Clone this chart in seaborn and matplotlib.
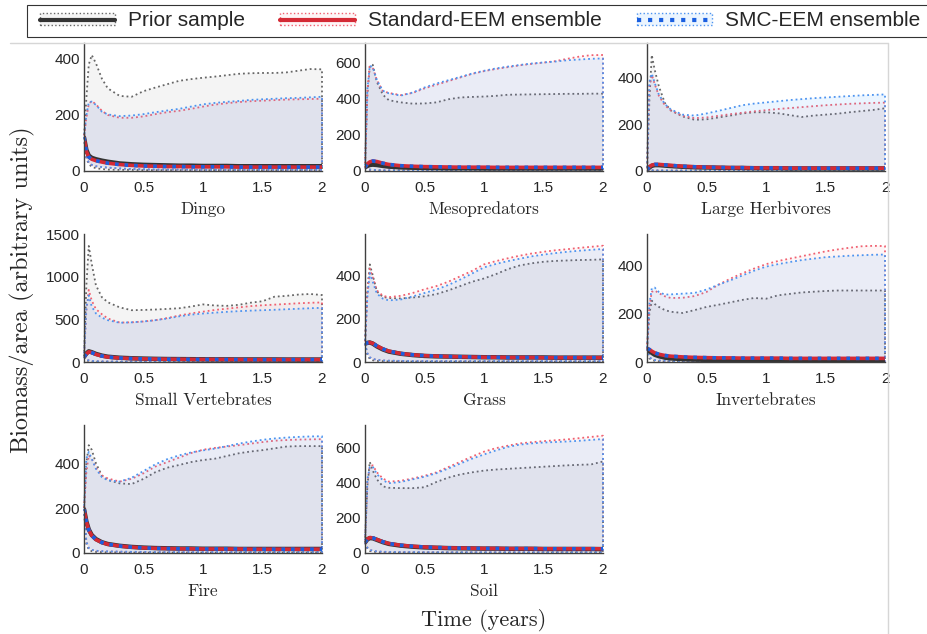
import pandas as pd
import matplotlib.pyplot as plt
import seaborn as sns
from matplotlib.patches import Patch, Rectangle
from matplotlib.lines import Line2D

# time grid (years)
t = [0, 0.02, 0.04, 0.065, 0.1, 0.15, 0.2, 0.3, 0.4, 0.5, 0.6, 0.7, 0.8,
     0.9, 1.0, 1.1, 1.2, 1.3, 1.4, 1.5, 1.6, 1.7, 1.8, 1.9, 2.0]

names = ["Dingo", "Mesopredators", "Large Herbivores", "Small Vertebrates",
         "Grass", "Invertebrates", "Fire", "Soil"]

# upper envelopes
prior_hi = {
    "Dingo": [120, 260, 380, 414, 385, 330, 295, 268, 265, 285, 298, 310, 322, 328, 333, 337, 342, 347, 349, 350, 350, 352, 358, 364, 363],
    "Mesopredators": [20, 420, 580, 585, 490, 420, 390, 378, 371, 372, 378, 395, 405, 408, 410, 414, 420, 421, 422, 423, 424, 425, 425, 426, 426],
    "Large Herbivores": [5, 300, 494, 430, 360, 290, 258, 232, 218, 220, 228, 236, 245, 250, 250, 246, 238, 230, 236, 240, 244, 250, 255, 260, 267],
    "Small Vertebrates": [60, 900, 1360, 1150, 900, 760, 700, 640, 607, 610, 615, 622, 630, 650, 675, 662, 658, 670, 695, 712, 765, 775, 790, 797, 785],
    "Grass": [85, 330, 450, 400, 325, 300, 295, 293, 297, 303, 313, 330, 350, 370, 385, 405, 428, 445, 455, 462, 466, 468, 470, 471, 473],
    "Invertebrates": [55, 200, 254, 240, 228, 215, 208, 203, 215, 228, 237, 247, 257, 265, 262, 276, 282, 288, 291, 294, 296, 296, 296, 296, 296],
    "Fire": [195, 400, 480, 460, 400, 345, 325, 310, 307, 330, 360, 380, 392, 405, 414, 420, 432, 444, 452, 458, 466, 474, 476, 476, 476],
    "Soil": [60, 380, 520, 470, 420, 380, 372, 370, 370, 375, 405, 430, 448, 460, 470, 476, 480, 484, 488, 492, 496, 500, 503, 505, 522],
}
std_hi = {
    "Dingo": [120, 190, 240, 250, 238, 215, 200, 190, 190, 195, 203, 210, 215, 222, 230, 237, 242, 246, 249, 251, 253, 255, 256, 257, 258],
    "Mesopredators": [20, 440, 575, 570, 500, 440, 430, 418, 430, 455, 475, 495, 515, 535, 550, 562, 572, 582, 590, 597, 605, 618, 630, 638, 639],
    "Large Herbivores": [5, 360, 410, 370, 320, 280, 258, 235, 225, 228, 235, 242, 248, 254, 259, 264, 268, 272, 276, 280, 283, 286, 288, 290, 291],
    "Small Vertebrates": [60, 600, 845, 720, 620, 560, 510, 462, 465, 475, 490, 515, 545, 570, 590, 610, 625, 640, 655, 665, 672, 680, 688, 694, 698],
    "Grass": [85, 320, 430, 390, 330, 305, 299, 305, 318, 335, 350, 370, 395, 420, 450, 465, 478, 490, 500, 508, 515, 520, 526, 531, 536],
    "Invertebrates": [55, 230, 290, 296, 285, 272, 265, 266, 273, 290, 320, 345, 367, 387, 405, 418, 428, 438, 448, 458, 466, 473, 479, 481, 480],
    "Fire": [195, 360, 435, 420, 380, 345, 332, 318, 330, 355, 385, 405, 425, 445, 460, 468, 474, 480, 487, 494, 500, 503, 505, 506, 507],
    "Soil": [60, 400, 495, 500, 460, 425, 407, 412, 425, 440, 460, 490, 520, 550, 578, 598, 612, 625, 632, 638, 643, 648, 655, 662, 669],
}
smc_hi = {
    "Dingo": [120, 200, 245, 248, 236, 212, 202, 196, 198, 203, 210, 216, 222, 230, 238, 243, 247, 250, 254, 256, 258, 260, 261, 263, 265],
    "Mesopredators": [20, 450, 580, 572, 500, 442, 428, 415, 432, 460, 482, 500, 518, 537, 552, 565, 575, 584, 592, 598, 603, 610, 614, 618, 620],
    "Large Herbivores": [5, 380, 415, 375, 325, 285, 262, 240, 236, 245, 256, 268, 280, 287, 292, 297, 302, 306, 310, 313, 316, 319, 322, 324, 326],
    "Small Vertebrates": [60, 650, 780, 650, 570, 520, 490, 460, 465, 475, 490, 510, 535, 555, 568, 578, 588, 596, 602, 607, 612, 618, 624, 630, 635],
    "Grass": [85, 300, 410, 370, 315, 292, 284, 288, 302, 318, 334, 355, 380, 408, 436, 452, 465, 476, 487, 495, 502, 508, 513, 517, 521],
    "Invertebrates": [55, 240, 305, 308, 290, 279, 280, 283, 286, 300, 320, 338, 358, 378, 395, 405, 414, 422, 428, 434, 437, 440, 442, 444, 445],
    "Fire": [195, 420, 450, 420, 375, 338, 324, 318, 335, 365, 395, 418, 435, 448, 457, 465, 476, 487, 496, 504, 510, 514, 517, 519, 520],
    "Soil": [60, 420, 490, 493, 450, 415, 398, 405, 420, 435, 455, 482, 510, 538, 562, 585, 605, 618, 625, 630, 633, 636, 640, 645, 650],
}

# medians
prior_med = {
    "Dingo": [120, 75, 55, 47, 42, 37, 33, 27, 24, 22, 21, 20, 19, 19, 18, 18, 18, 17, 17, 17, 17, 17, 17, 17, 17],
    "Mesopredators": [20, 28, 33, 35, 33, 28, 24, 20, 18, 17, 16, 15, 15, 15, 14, 14, 14, 14, 14, 14, 14, 14, 14, 14, 14],
    "Large Herbivores": [5, 15, 22, 25, 25, 23, 21, 18, 16, 15, 14, 13, 13, 12, 12, 12, 11, 11, 11, 11, 11, 11, 11, 11, 11],
    "Small Vertebrates": [60, 100, 125, 115, 95, 75, 62, 50, 44, 40, 37, 35, 34, 33, 32, 31, 31, 30, 30, 30, 30, 29, 29, 29, 29],
    "Grass": [85, 88, 90, 85, 72, 58, 48, 38, 32, 28, 26, 25, 24, 23, 22, 22, 21, 21, 21, 21, 20, 20, 20, 20, 20],
    "Invertebrates": [55, 45, 38, 30, 24, 18, 15, 12, 10, 9, 9, 8, 8, 8, 8, 8, 8, 8, 7, 7, 7, 7, 7, 7, 7],
    "Fire": [195, 140, 105, 80, 62, 48, 40, 32, 27, 24, 22, 21, 20, 20, 19, 19, 19, 18, 18, 18, 18, 18, 18, 18, 18],
    "Soil": [60, 78, 85, 84, 75, 62, 52, 42, 36, 32, 30, 28, 27, 26, 25, 25, 24, 24, 24, 23, 23, 23, 23, 23, 22],
}
ens_med = {
    "Dingo": [120, 70, 50, 42, 37, 32, 28, 23, 20, 18, 17, 16, 16, 15, 15, 15, 15, 14, 14, 14, 14, 14, 14, 14, 14],
    "Mesopredators": [20, 40, 50, 55, 52, 43, 36, 29, 26, 24, 23, 22, 21, 21, 21, 20, 20, 20, 20, 20, 20, 20, 20, 20, 20],
    "Large Herbivores": [5, 18, 25, 28, 28, 26, 24, 20, 18, 16, 15, 14, 14, 13, 13, 13, 12, 12, 12, 12, 12, 12, 12, 12, 12],
    "Small Vertebrates": [60, 95, 120, 110, 90, 70, 58, 47, 41, 37, 35, 33, 32, 31, 30, 30, 29, 29, 28, 28, 28, 28, 28, 28, 28],
    "Grass": [85, 88, 90, 86, 74, 60, 50, 39, 33, 29, 27, 25, 24, 23, 22, 22, 21, 21, 21, 20, 20, 20, 20, 20, 20],
    "Invertebrates": [55, 52, 45, 38, 32, 27, 24, 21, 19, 18, 17, 17, 16, 16, 16, 16, 15, 15, 15, 15, 15, 15, 15, 15, 15],
    "Fire": [195, 138, 102, 78, 60, 47, 39, 31, 26, 23, 21, 20, 19, 19, 18, 18, 18, 18, 17, 17, 17, 17, 17, 17, 17],
    "Soil": [60, 80, 88, 86, 77, 64, 54, 44, 38, 34, 31, 29, 28, 27, 26, 26, 25, 25, 25, 24, 24, 24, 24, 24, 24],
}

# lower envelopes
prior_lo = {
    "Dingo": [120, 45, 25, 15, 10, 7, 5, 4, 4, 3, 3, 3, 3, 3, 3, 3, 3, 3, 3, 3, 3, 3, 3, 3, 3],
    "Mesopredators": [20, 10, 6, 4, 3, 2, 2, 2, 2, 2, 2, 2, 2, 2, 2, 2, 2, 2, 2, 2, 2, 2, 2, 2, 2],
    "Large Herbivores": [5, 3, 2, 2, 2, 1, 1, 1, 1, 1, 1, 1, 1, 1, 1, 1, 1, 1, 1, 1, 1, 1, 1, 1, 1],
    "Small Vertebrates": [60, 20, 10, 6, 4, 3, 3, 2, 2, 2, 2, 2, 2, 2, 2, 2, 2, 2, 2, 2, 2, 2, 2, 2, 2],
    "Grass": [85, 30, 15, 8, 5, 4, 3, 3, 2, 2, 2, 2, 2, 2, 2, 2, 2, 2, 2, 2, 2, 2, 2, 2, 2],
    "Invertebrates": [55, 15, 8, 5, 3, 2, 2, 2, 2, 2, 2, 2, 2, 2, 2, 2, 2, 2, 2, 2, 2, 2, 2, 2, 2],
    "Fire": [195, 40, 15, 8, 5, 4, 3, 3, 2, 2, 2, 2, 2, 2, 2, 2, 2, 2, 2, 2, 2, 2, 2, 2, 2],
    "Soil": [60, 25, 12, 8, 5, 4, 3, 3, 3, 3, 3, 3, 3, 3, 3, 3, 3, 3, 3, 3, 3, 3, 3, 3, 3],
}
ens_lo = {
    "Dingo": [120, 50, 30, 22, 17, 14, 12, 9, 7, 6, 5, 5, 5, 5, 4, 4, 4, 4, 4, 4, 4, 4, 4, 4, 4],
    "Mesopredators": [20, 12, 8, 6, 5, 4, 4, 3, 3, 3, 3, 3, 3, 3, 3, 3, 3, 3, 3, 3, 3, 3, 3, 3, 3],
    "Large Herbivores": [5, 3, 3, 2, 2, 2, 2, 2, 2, 2, 2, 2, 2, 2, 2, 2, 2, 2, 2, 2, 2, 2, 2, 2, 2],
    "Small Vertebrates": [60, 30, 18, 12, 9, 7, 6, 5, 4, 4, 4, 4, 4, 4, 4, 4, 4, 4, 4, 4, 4, 4, 4, 4, 4],
    "Grass": [85, 40, 22, 14, 10, 7, 6, 5, 4, 4, 4, 4, 4, 4, 4, 4, 4, 4, 4, 4, 4, 4, 4, 4, 4],
    "Invertebrates": [55, 20, 12, 8, 6, 5, 4, 4, 4, 4, 4, 4, 4, 4, 4, 4, 4, 4, 4, 4, 4, 4, 4, 4, 4],
    "Fire": [195, 50, 22, 14, 10, 8, 7, 6, 5, 5, 4, 4, 4, 4, 4, 4, 4, 4, 4, 4, 4, 4, 4, 4, 4],
    "Soil": [60, 30, 18, 12, 9, 7, 6, 5, 5, 4, 4, 4, 4, 4, 4, 4, 4, 4, 4, 4, 4, 4, 4, 4, 4],
}

ylims = {"Dingo": 457, "Mesopredators": 705, "Large Herbivores": 545,
         "Small Vertebrates": 1500, "Grass": 590, "Invertebrates": 530,
         "Fire": 570, "Soil": 730}
yticks = {"Dingo": [0, 200, 400], "Mesopredators": [0, 200, 400, 600],
          "Large Herbivores": [0, 200, 400], "Small Vertebrates": [0, 500, 1000, 1500],
          "Grass": [0, 200, 400], "Invertebrates": [0, 200, 400],
          "Fire": [0, 200, 400], "Soil": [0, 200, 400, 600]}

labels = ["Prior sample", "Standard-EEM ensemble", "SMC-EEM ensemble"]

# styles: fill, edge, median colour
prior_fill = (0, 0, 0, 0.045)
std_fill = (0.94, 0.24, 0.35, 0.05)
smc_fill = (0.24, 0.63, 1.0, 0.10)
prior_edge, std_edge, smc_edge = "#666666", "#f06070", "#4d94f0"
prior_col, std_col, smc_col = "#333333", "#d42a35", "#1a5fe0"

sns.set_theme(style="white")
plt.rcParams['font.family'] = ['Liberation Sans', 'DejaVu Sans']

W, H = 927, 634
fig = plt.figure(figsize=(W / 100, H / 100), dpi=100)
lefts = [84, 365, 647]
tops = [43, 234, 425]
aw, ah = 238, 128

for i, name in enumerate(names):
    r, c = divmod(i, 3)
    ax = fig.add_axes([lefts[c] / W, 1 - (tops[r] + ah) / H, aw / W, ah / H])

    for lo, hi, fc, ec in [(prior_lo, prior_hi, prior_fill, prior_edge),
                           (ens_lo, std_hi, std_fill, std_edge),
                           (ens_lo, smc_hi, smc_fill, smc_edge)]:
        ax.fill_between(t, lo[name], hi[name], facecolor=fc, edgecolor=ec,
                        linestyle=":", linewidth=1.3, clip_on=False)

    df = pd.DataFrame({"t": t, "prior": prior_med[name], "ens": ens_med[name]})
    sns.lineplot(data=df, x="t", y="prior", color=prior_col, lw=3.2, ax=ax)
    sns.lineplot(data=df, x="t", y="ens", color=std_col, lw=2.6, ax=ax)
    sns.lineplot(data=df, x="t", y="ens", color=smc_col, lw=2.6, linestyle=":", ax=ax)

    ax.set_xlim(0, 2)
    ax.set_ylim(0, ylims[name])
    ax.set_xticks([0, 0.5, 1, 1.5, 2])
    ax.set_xticklabels(["0", "0.5", "1", "1.5", "2"])
    ax.set_yticks(yticks[name])
    ax.tick_params(length=0, labelsize=11, colors="#262626")
    ax.tick_params(axis="x", pad=7)
    ax.tick_params(axis="y", pad=3)
    ax.set_ylabel("")
    ax.set_xlabel(name, fontfamily="cmr10", fontsize=12.5, color="#262626", labelpad=5)
    sns.despine(ax=ax)
    for s in ["left", "bottom"]:
        ax.spines[s].set_color("#404040")
        ax.spines[s].set_linewidth(1.0)

fig.text(22 / W, 1 - 290 / H, "Biomass/area (arbitrary units)", rotation=90,
         ha="center", va="center", fontfamily="cmr10", fontsize=17.5, color="#262626")
fig.text(484 / W, 1 - 620 / H, "Time (years)", ha="center", va="center",
         fontfamily="cmr10", fontsize=16, color="#262626")

# light frame behind the panels
fig.add_artist(Line2D([10 / W, 888 / W], [1 - 43 / H] * 2, color="#d6d6d6", lw=1))
fig.add_artist(Line2D([888 / W] * 2, [0, 1 - 43 / H], color="#d6d6d6", lw=1))

# legend box
fig.add_artist(Rectangle((27 / W, 1 - 37 / H), 920 / W, 32 / H, transform=fig.transFigure,
                         facecolor="white", edgecolor="#333333", lw=0.8))
handles = [
    (Patch(facecolor=prior_fill, edgecolor=prior_edge, linestyle=":", lw=1),
     Line2D([], [], color=prior_col, lw=3)),
    (Patch(facecolor=std_fill, edgecolor=std_edge, linestyle=":", lw=1),
     Line2D([], [], color=std_col, lw=3)),
    (Patch(facecolor=smc_fill, edgecolor=smc_edge, linestyle=":", lw=1),
     Line2D([], [], color=smc_col, lw=3, linestyle=":")),
]
leg = fig.legend(handles, labels, loc="center left", bbox_to_anchor=(40 / W, 1 - 21 / H),
                 ncol=3, frameon=False, fontsize=15, handlelength=3.6, handleheight=0.5,
                 handletextpad=0.62, columnspacing=1.7, borderpad=0, borderaxespad=0)

fig.savefig("out.png", dpi=100)
